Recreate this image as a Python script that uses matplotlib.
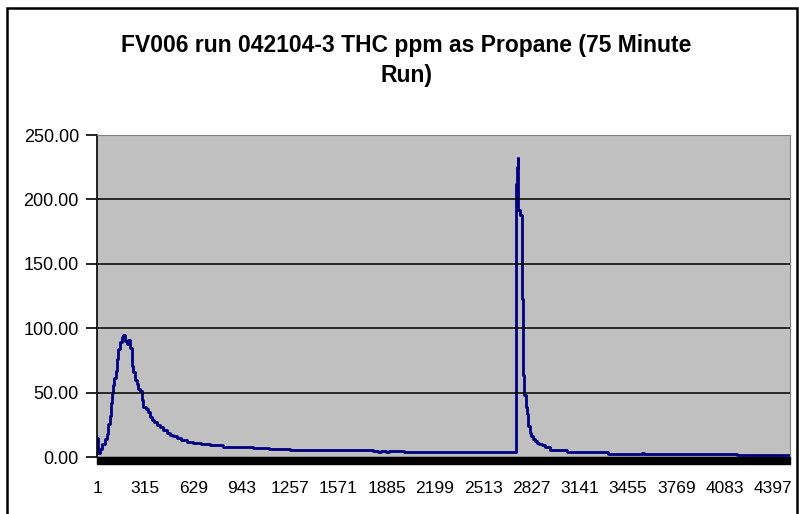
import numpy as np
import matplotlib
matplotlib.use("Agg")
import matplotlib.pyplot as plt
from matplotlib.patches import Rectangle

# THC readings (category index, ppm) - value holds until next index
idx = [1, 4, 8, 20, 35, 50, 64, 75, 85, 92, 96, 104, 111, 124, 132, 139, 150, 161,
       172, 183, 194, 205, 216, 226, 237, 248, 259, 270, 281, 292, 302, 318, 335, 346,
       357, 373, 389, 410, 432, 455, 476, 498, 519, 550, 584, 627, 680, 736, 822, 900,
       1017, 1120, 1256, 1795, 1830, 1850, 1880, 1900, 2000, 2218,
       2725, 2731, 2737, 2741, 2751, 2762, 2772, 2776, 2790, 2799, 2805, 2816, 2826,
       2836, 2849, 2862, 2878, 2894, 2914, 2946, 3057, 3323, 3545, 3556, 4162, 4507]
ppm = [3, 15, 3, 6, 10, 14, 18, 26, 32, 42, 50, 56, 61, 67, 76, 84, 89, 93,
       95, 90, 88, 91, 85, 71, 66, 60, 57, 53, 51, 44, 39, 37, 35, 31,
       29, 27, 25, 23, 21, 19, 17, 16, 14.5, 13, 12, 10.6, 10, 9.3, 8, 7.5,
       6.7, 6.2, 5.5, 4.8, 4.2, 4.8, 4.2, 4.5, 4.2, 4.0,
       212, 225, 232, 192, 188, 123, 64, 48, 39, 33, 24, 19, 16.5,
       14, 12.8, 11, 9.8, 9, 7.6, 5.8, 3.7, 2.5, 3.4, 2.3, 1.7, 1.7]

n_points = 4507
xlabels = [1, 315, 629, 943, 1257, 1571, 1885, 2199, 2513, 2827, 3141, 3455, 3769, 4083, 4397]
yticks = [0, 50, 100, 150, 200, 250]

fig = plt.figure(figsize=(7.99, 5.14), dpi=100)
ax = fig.add_axes([97/799, 57/514, 693/799, 322/514])
ax.set_facecolor('#C0C0C0')

ax.plot(idx, ppm, color='#000080', lw=2, drawstyle='steps-post')

ax.set_xlim(1, n_points)
ax.set_ylim(0, 250)
ax.set_yticks(yticks)
ax.set_yticklabels(['%.2f' % v for v in yticks], fontsize=13, family='Liberation Sans')
ax.set_xticks(xlabels)
ax.set_xticklabels([str(v) for v in xlabels], fontsize=12.5, family='Liberation Sans')
ax.tick_params(axis='y', length=8, width=1.2, pad=5, colors='black')
ax.tick_params(axis='x', length=0, pad=17)

for v in yticks[1:-1]:
    ax.axhline(v, color='black', lw=1.1)

ax.spines['top'].set_color('#808080')
ax.spines['right'].set_color('#808080')
ax.spines['left'].set_color('black')
ax.spines['bottom'].set_color('black')
ax.spines['left'].set_linewidth(1.2)

# dense category tick marks appear as a solid black band
ax.add_patch(Rectangle((0, -0.022), 1, 0.022, transform=ax.transAxes,
                       color='black', clip_on=False))

fig.text(406/799, 1 - 60.5/514, 'FV006 run 042104-3 THC ppm as Propane (75 Minute\nRun)',
         ha='center', va='center', fontsize=16.5, fontweight='bold',
         family='Liberation Sans', linespacing=1.35)

fig.patches.append(Rectangle((7/799, -0.02), 790/799, 1.02 - 8/514,
                             transform=fig.transFigure, fill=False,
                             edgecolor='black', lw=1.8))

plt.savefig("out.png", dpi=100)
plt.close()
